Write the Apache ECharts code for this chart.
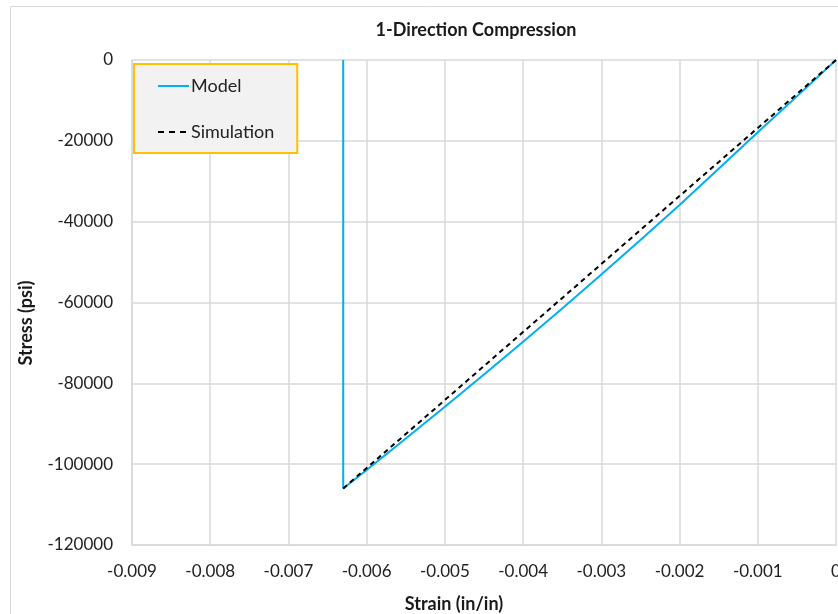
<!DOCTYPE html>
<html>
<head>
<meta charset="utf-8">
<title>1-Direction Compression</title>
<script src="https://cdn.jsdelivr.net/npm/echarts@6/dist/echarts.min.js"></script>
<style>
  html, body { margin: 0; padding: 0; background: #fff; }
  #chart { width: 838px; height: 614px; }
</style>
</head>
<body>
<div id="chart"></div>
<script>
// Model response: loading curve down to failure, then the drop back to zero stress
const modelStrain = [0, -0.0005, -0.001, -0.0015, -0.002, -0.0025, -0.003, -0.0035, -0.004, -0.0045, -0.005, -0.0055, -0.006, -0.0063, -0.0063];
const modelStress = [0, -9000, -17900, -26900, -35900, -44560, -53080, -61490, -69700, -77810, -85780, -93640, -101450, -106000, 0];

// Simulation result: linear path to the same failure point
const simStrain = [0, -0.0063];
const simStress = [0, -106000];

// Axis ranges and tick spacing
const xTicks = { min: -0.009, max: 0, step: 0.001 };
const yTicks = { min: -120000, max: 0, step: 20000 };

const FONT = 'Lato, "Open Sans", sans-serif';
const GRID = '#d9d9d9';

const zip = (xs, ys) => xs.map((x, i) => [x, ys[i]]);

const chart = echarts.init(document.getElementById('chart'), null, { renderer: 'canvas' });

chart.setOption({
  backgroundColor: '#ffffff',
  animation: false,
  title: {
    text: '1-Direction Compression',
    left: 471,
    top: 16,
    textAlign: 'center',
    textStyle: { fontFamily: FONT, fontWeight: 'bold', fontSize: 18, color: '#1a1a1a' }
  },
  graphic: [{
    type: 'rect',
    shape: { x: 10.5, y: 6.5, width: 1000, height: 1000 },
    style: { fill: 'none', stroke: GRID, lineWidth: 1 },
    silent: true,
    z: -10
  }],
  legend: {
    orient: 'vertical',
    left: 134,
    top: 64,
    padding: [13, 23, 12, 23],
    itemGap: 28,
    itemWidth: 31,
    itemHeight: 14,
    backgroundColor: '#f2f2f2',
    borderColor: '#ffc000',
    borderWidth: 2,
    borderRadius: 0,
    itemStyle: { color: 'rgba(0,0,0,0)', borderWidth: 0, opacity: 0 },
    textStyle: { fontFamily: FONT, fontSize: 18, color: '#222', padding: [0, 0, 0, -3] },
    data: [
      { name: 'Model' },
      { name: 'Simulation', lineStyle: { type: [6, 5] } }
    ]
  },
  grid: { left: 132, right: 2, top: 60, bottom: 69, containLabel: false, outerBoundsMode: 'none' },
  xAxis: {
    type: 'value',
    min: xTicks.min,
    max: xTicks.max,
    interval: xTicks.step,
    name: 'Strain (in/in)',
    nameLocation: 'middle',
    nameGap: 50,
    nameTextStyle: { fontFamily: FONT, fontWeight: 'bold', fontSize: 18, color: '#1a1a1a', padding: [0, 60, 0, 0] },
    axisLine: { show: true, onZero: false, lineStyle: { color: GRID, width: 1.5 } },
    axisTick: { show: false },
    splitLine: { show: true, lineStyle: { color: GRID, width: 1.5 } },
    axisLabel: {
      fontFamily: FONT, fontSize: 17, color: '#222', margin: 18,
      formatter: v => (Math.abs(v) < 1e-12 ? '0' : v.toFixed(3))
    }
  },
  yAxis: {
    type: 'value',
    min: yTicks.min,
    max: yTicks.max,
    interval: yTicks.step,
    name: 'Stress (psi)',
    nameLocation: 'middle',
    nameGap: 97,
    nameTextStyle: { fontFamily: FONT, fontWeight: 'bold', fontSize: 18, color: '#1a1a1a', padding: [0, 41, 0, 0] },
    axisLine: { show: true, onZero: false, lineStyle: { color: GRID, width: 1.5 } },
    axisTick: { show: false },
    splitLine: { show: true, lineStyle: { color: GRID, width: 1.5 } },
    axisLabel: {
      fontFamily: FONT, fontSize: 17, color: '#222', margin: 19,
      formatter: v => String(Math.round(v))
    }
  },
  series: [
    {
      name: 'Model',
      type: 'line',
      data: zip(modelStrain, modelStress),
      symbol: 'none',
      smooth: false,
      lineStyle: { color: '#00b0f0', width: 2 },
      itemStyle: { color: '#00b0f0' },
      z: 2
    },
    {
      name: 'Simulation',
      type: 'line',
      data: zip(simStrain, simStress),
      symbol: 'none',
      lineStyle: { color: '#000000', width: 2, type: [5, 4] },
      itemStyle: { color: '#000000' },
      z: 3
    }
  ]
});
</script>
</body>
</html>
